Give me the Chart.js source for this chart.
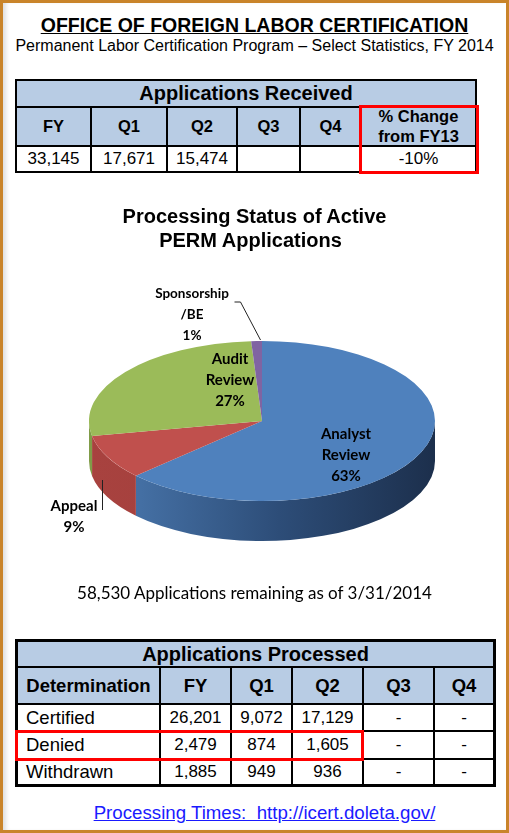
<!DOCTYPE html>
<html>
<head>
<meta charset="utf-8">
<title>Office of Foreign Labor Certification - PERM FY 2014</title>
<script src="https://cdn.jsdelivr.net/npm/chart.js"></script>
<style>
  html, body { margin: 0; padding: 0; background: #fff; }
  #page { position: relative; width: 509px; height: 833px; overflow: hidden;
          font-family: "Liberation Sans", Arial, sans-serif; color: #000; }
  .frame { position: absolute; left: 0; top: 0; width: 509px; height: 833px; box-sizing: border-box;
           border: 3px solid #c9842a; box-shadow: inset 5px 0 4px -2px rgba(0,0,0,0.13);
           pointer-events: none; z-index: 10; }
  .txt { position: absolute; left: 0; width: 509px; text-align: center; white-space: nowrap; z-index: 2; }
  #title { top: 14px; font-size: 19.5px; line-height: 22px; font-weight: bold; text-decoration: underline; }
  #subtitle { top: 37px; font-size: 16px; line-height: 18px; }
  #chartTitle { top: 204px; font-size: 20px; line-height: 24px; font-weight: bold; }
  #chartTitle span { display: block; }
  #remaining { top: 583px; font-family: Lato, "Open Sans", sans-serif; font-size: 17px; line-height: 20px; }
  #link { top: 802px; left: 10px; font-size: 18.7px; line-height: 22px; }
  #link a { color: #1a1aff; text-decoration: underline; }
  .grid { position: absolute; display: grid; background: #000; z-index: 2; }
  .grid div { background: #fff; display: flex; align-items: center; justify-content: center;
              white-space: nowrap; text-align: center; }
  .grid .hd { background: #b8cce4; font-weight: bold; }
  .grid .span { grid-column: 1 / -1; }
  .grid .left { justify-content: flex-start; padding-left: 8px; }
  #received { left: 15px; top: 79px; }
  #received .cap { font-size: 20px; }
  #received .col { font-size: 16.5px; line-height: 19.5px; }
  #received .val { font-size: 17px; }
  #processed { left: 15px; top: 639px; }
  #processed .cap { font-size: 20px; }
  #processed .col { font-size: 18.5px; }
  #processed .lab { font-size: 18.5px; }
  #processed .val { font-size: 17px; }
  .redbox { position: absolute; border: 3px solid #ff0000; box-sizing: border-box; z-index: 3; }
  #chart { position: absolute; left: 0; top: 180px; z-index: 1; }
</style>
</head>
<body>
<div id="page">
  <div id="title" class="txt">OFFICE OF FOREIGN LABOR CERTIFICATION</div>
  <div id="subtitle" class="txt">Permanent Labor Certification Program &ndash; Select Statistics, FY 2014</div>

  <div id="received" class="grid"></div>
  <div class="redbox" style="left:359px; top:105px; width:120px; height:69px;"></div>

  <div id="chartTitle" class="txt"><span>Processing Status of Active</span><span style="margin-left:-8px">PERM Applications</span></div>
  <canvas id="chart" width="509" height="420"></canvas>
  <div id="remaining" class="txt"></div>

  <div id="processed" class="grid"></div>
  <div class="redbox" style="left:15px; top:730px; width:349px; height:31px;"></div>

  <div id="link" class="txt"><a href="http://icert.doleta.gov/">Processing Times:&nbsp; http://icert.doleta.gov/</a></div>
  <div class="frame"></div>
</div>

<script>
// ---- data ----
const receivedHeaders = ['FY', 'Q1', 'Q2', 'Q3', 'Q4'];
const receivedCounts = [33145, 17671, 15474, null, null];
const changeHeader = ['% Change', 'from FY13'];
const changeFromFY13 = -10;

const processedHeaders = ['Determination', 'FY', 'Q1', 'Q2', 'Q3', 'Q4'];
const determinations = ['Certified', 'Denied', 'Withdrawn'];
const certifiedCounts = [26201, 9072, 17129, null, null];
const deniedCounts = [2479, 874, 1605, null, null];
const withdrawnCounts = [1885, 949, 936, null, null];

const statusLabels = [['Analyst', 'Review'], ['Appeal'], ['Audit', 'Review'], ['Sponsorship', '/BE']];
const statusShares = [63, 9, 27, 1];
const remainingApplications = 58530;
const remainingAsOf = '3/31/2014';

// ---- styles ----
const sliceColors = ['#4f81bd', '#c0504d', '#9bbb59', '#8064a2'];
const sideStops = [
  [[0, '#4873a9'], [0.15, '#446fa3'], [0.55, '#2d4d78'], [1, '#1c2f4c']],
  [[0, '#a8423f'], [1, '#9c3c39']],
  [[0, '#809c48'], [1, '#7a9544']],
  [[0, '#64507f'], [1, '#64507f']]
];
const TILT = 80 / 173;   // ellipse height / width
const DEPTH = 40;        // side wall in px
// label placement relative to pie centre: dx, dy, font size, line height
const labelStyle = [
  { dx: 84, dy: 34, size: 15, lh: 21 },
  { dx: -188, dy: 95, size: 15, lh: 21 },
  { dx: -32, dy: -41, size: 15, lh: 21 },
  { dx: -70, dy: -107, size: 13.5, lh: 21 }
];
const leaders = [
  null,
  [[-160, 59], [-160, 89]],
  null,
  [[-28, -119], [-22, -119], [-2, -81]]
];

const fmt = v => v == null ? '' : v.toLocaleString('en-US');

function addCell(grid, html, cls) {
  const d = document.createElement('div');
  d.className = cls;
  d.innerHTML = html;
  grid.appendChild(d);
}
function setupGrid(grid, cols, rows, border, line) {
  grid.style.gridTemplateColumns = cols.map(c => c + 'px').join(' ');
  grid.style.gridTemplateRows = rows.map(r => r + 'px').join(' ');
  grid.style.gap = line + 'px';
  grid.style.padding = border + 'px';
}

// Applications Received
const rec = document.getElementById('received');
setupGrid(rec, [73, 74, 68, 61, 59, 113], [25, 37, 24], 2, 2);
addCell(rec, 'Applications Received', 'hd span cap');
receivedHeaders.forEach(h => addCell(rec, h, 'hd col'));
addCell(rec, changeHeader.join('<br>'), 'hd col');
receivedCounts.forEach(v => addCell(rec, fmt(v), 'val'));
addCell(rec, changeFromFY13 + '%', 'val');

// Applications Processed
const proc = document.getElementById('processed');
setupGrid(proc, [141, 69, 59, 69, 69, 58], [24, 35, 25, 26, 24], 3, 2);
addCell(proc, 'Applications Processed', 'hd span cap');
processedHeaders.forEach(h => addCell(proc, h, 'hd col'));
[certifiedCounts, deniedCounts, withdrawnCounts].forEach((row, i) => {
  addCell(proc, determinations[i], 'lab left');
  row.forEach(v => addCell(proc, v == null ? '-' : fmt(v), 'val'));
});

document.getElementById('remaining').textContent =
  fmt(remainingApplications) + ' Applications remaining as of ' + remainingAsOf;

// 3D look: squash the pie vertically and paint the front wall under it
const pie3d = {
  id: 'pie3d',
  beforeDatasetsDraw(chart) {
    const ctx = chart.ctx;
    const arcs = chart.getDatasetMeta(0).data;
    const { x, y, outerRadius: r } = arcs[0];
    ctx.save();
    ctx.translate(x, y);
    ctx.scale(1, TILT);
    ctx.translate(-x, -y);
    const d = DEPTH / TILT;
    arcs.forEach((arc, i) => {
      const a0 = Math.max(arc.startAngle, 0);
      const a1 = Math.min(arc.endAngle, Math.PI);
      if (a1 <= a0) return;
      const g = ctx.createLinearGradient(x - r, 0, x + r, 0);
      sideStops[i].forEach(([o, c]) => g.addColorStop(o, c));
      ctx.beginPath();
      ctx.arc(x, y, r, a0, a1);
      ctx.arc(x, y + d, r, a1, a0, true);
      ctx.closePath();
      ctx.fillStyle = g;
      ctx.fill();
    });
  },
  afterDatasetsDraw(chart) {
    chart.ctx.restore();
  }
};

const pieLabels = {
  id: 'pieLabels',
  afterDraw(chart) {
    const ctx = chart.ctx;
    const { x: cx, y: cy } = chart.getDatasetMeta(0).data[0];
    ctx.save();
    ctx.fillStyle = '#000';
    ctx.textAlign = 'center';
    ctx.textBaseline = 'alphabetic';
    chart.data.labels.forEach((lab, i) => {
      const st = labelStyle[i];
      const lines = lab.concat(chart.data.datasets[0].data[i] + '%');
      ctx.font = 'bold ' + st.size + 'px Lato, "Open Sans", sans-serif';
      const mid = (lines.length - 1) / 2;
      lines.forEach((t, k) => {
        ctx.fillText(t, cx + st.dx, cy + st.dy + (k - mid) * st.lh + 0.36 * st.size);
      });
    });
    ctx.strokeStyle = '#222';
    ctx.lineWidth = 1;
    leaders.forEach(pts => {
      if (!pts) return;
      ctx.beginPath();
      pts.forEach(([px, py], k) => {
        if (k === 0) ctx.moveTo(cx + px + 0.5, cy + py);
        else ctx.lineTo(cx + px + 0.5, cy + py);
      });
      ctx.stroke();
    });
    ctx.restore();
  }
};

new Chart(document.getElementById('chart'), {
  type: 'pie',
  data: {
    labels: statusLabels,
    datasets: [{
      data: statusShares,
      backgroundColor: sliceColors,
      borderWidth: 0
    }]
  },
  options: {
    responsive: false,
    animation: false,
    layout: { padding: { left: 89, right: 74, top: 68, bottom: 6 } },
    plugins: {
      legend: { display: false },
      tooltip: { enabled: false }
    }
  },
  plugins: [pie3d, pieLabels]
});
</script>
</body>
</html>
